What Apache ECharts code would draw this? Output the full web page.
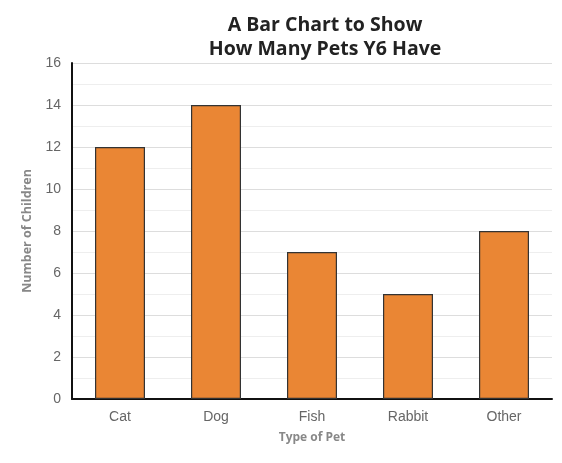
<!DOCTYPE html>
<html><head><meta charset="utf-8">
<script src="https://cdn.jsdelivr.net/npm/echarts@6/dist/echarts.min.js"></script>
<style>html,body{margin:0;padding:0;background:#fff}#c{width:562px;height:463px}</style>
</head><body><div id="c"></div>
<script>
const categories = ['Cat', 'Dog', 'Fish', 'Rabbit', 'Other'];
const values = [12, 14, 7, 5, 8];
const titleText = 'A Bar Chart to Show\nHow Many Pets Y6 Have';
const xName = 'Type of Pet';
const yName = 'Number of Children';

const chart = echarts.init(document.getElementById('c'), null, {renderer: 'canvas'});
chart.setOption({
  animation: false,
  title: {
    text: titleText, left: 320, top: 8, textAlign: 'center',
    textStyle: {fontFamily: 'Open Sans', fontWeight: 'bold', fontSize: 19.5, color: '#222', lineHeight: 24}
  },
  grid: {left: 72, right: 10, top: 63, bottom: 64},
  xAxis: {
    type: 'category', data: categories,
    name: xName, nameLocation: 'middle', nameGap: 33,
    nameTextStyle: {fontFamily: 'Open Sans', fontWeight: 'bold', fontSize: 12, color: '#888'},
    axisLine: {lineStyle: {color: '#111', width: 2}},
    axisTick: {show: false},
    axisLabel: {fontFamily: 'Liberation Sans', fontSize: 14, color: '#666', margin: 11}
  },
  yAxis: {
    type: 'value', min: 0, max: 16, interval: 2,
    name: yName, nameLocation: 'middle', nameGap: 38, nameRotate: 90,
    nameTextStyle: {fontFamily: 'Open Sans', fontWeight: 'bold', fontSize: 12.5, color: '#888'},
    axisLine: {show: true, lineStyle: {color: '#111', width: 2}},
    axisTick: {show: false},
    axisLabel: {fontFamily: 'Liberation Sans', fontSize: 14, color: '#666', margin: 11},
    splitLine: {lineStyle: {color: '#ddd', width: 1}},
    minorTick: {show: false, splitNumber: 2},
    minorSplitLine: {show: true, lineStyle: {color: '#eee', width: 1}}
  },
  series: [{
    type: 'bar', data: values, barWidth: 50,
    itemStyle: {color: '#EA8634', borderColor: '#333', borderWidth: 1.2}
  }]
});
</script></body></html>
